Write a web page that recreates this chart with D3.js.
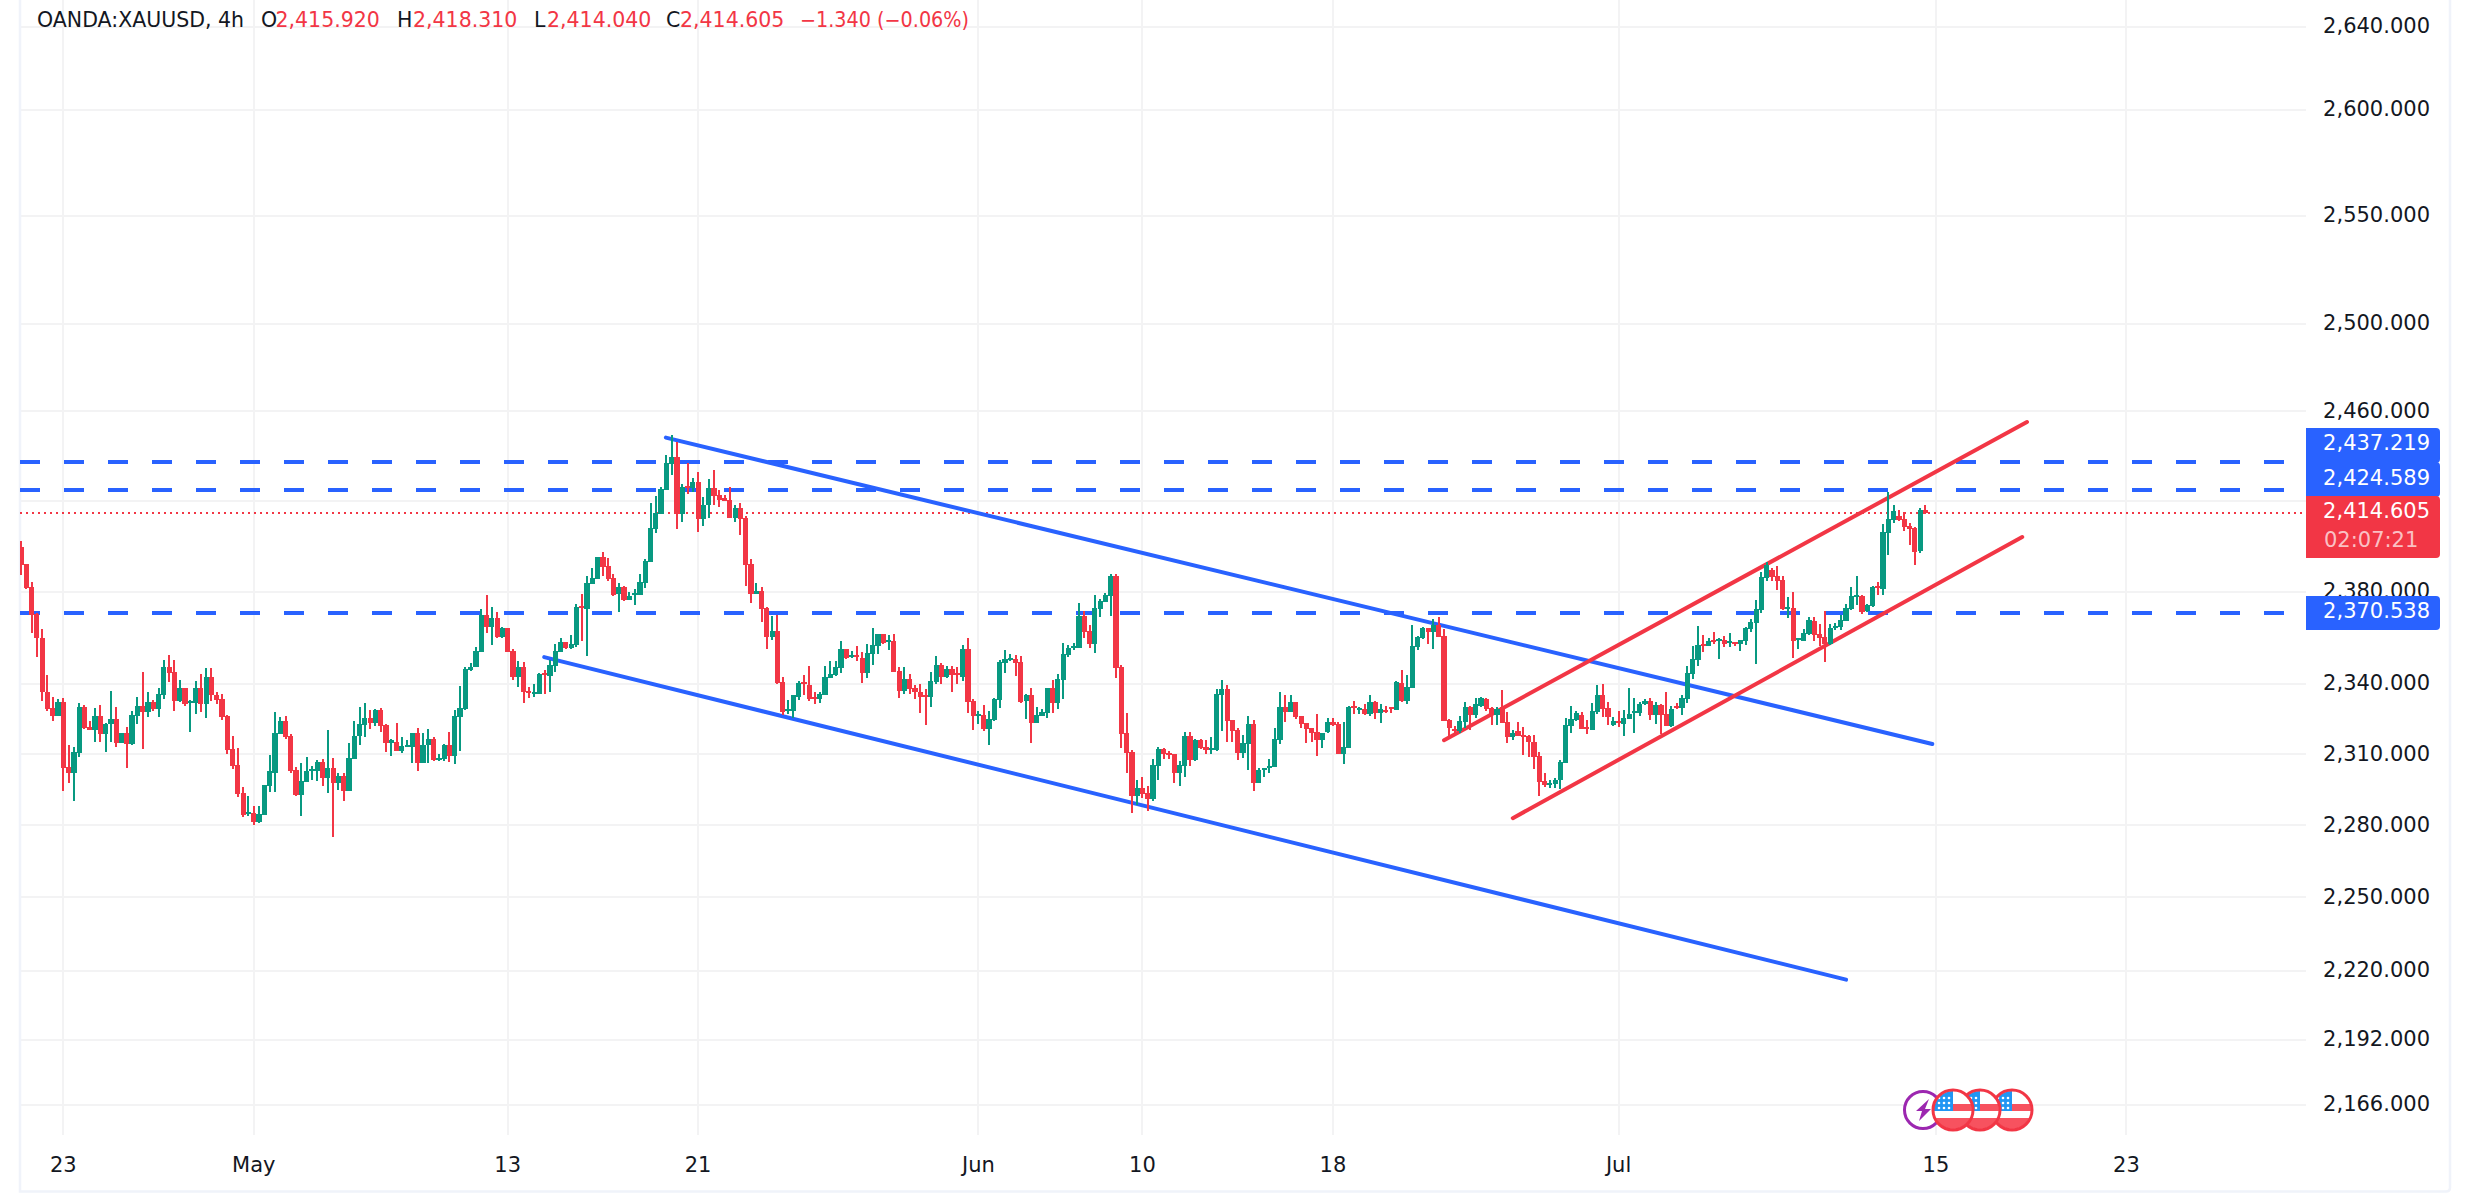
<!DOCTYPE html>
<html><head><meta charset="utf-8">
<script src="https://cdn.jsdelivr.net/npm/d3@7"></script>
<style>html,body{margin:0;padding:0;background:#fff;overflow:hidden}svg{display:block}text{font-family:"DejaVu Sans",sans-serif}</style>
</head><body><svg id="c" width="2470" height="1197"></svg>
<script>
// 4h XAUUSD candles
const highs=[
2402.2,2392.1,2384.3,2370.6,2363.8,2343.7,2334.5,2333.7,2334.1,2314,
2313.1,2331.9,2331,2324,2329.7,2331,2323.2,2337.1,2330.2,2318.8,
2321.4,2328.4,2334.5,2345,2336.3,2333.2,2338,2350.2,2352.4,2350.2,
2341.5,2338,2333.2,2341.1,2344.1,2346.7,2346.7,2336.3,2335.8,2326.7,
2317.5,2312.7,2296.1,2292.2,2288.3,2288.3,2297,2309.6,2328,2325.8,
2326.2,2318.4,2304.4,2306.2,2308.8,2304.8,2307.5,2307.9,2320.1,2308.3,
2302.2,2302.2,2314.9,2324,2330.2,2331.9,2328.9,2329.3,2329.7,2322.7,
2316.6,2323.2,2317.1,2316.2,2318.8,2321,2318.8,2320.6,2317.1,2310.1,
2314.4,2319.2,2328.9,2338.9,2347.2,2348.9,2355.9,2372.5,2378.6,2373.4,
2371.2,2364.6,2364.2,2355,2349.8,2349.4,2338.5,2339.8,2344.6,2345.9,
2350.2,2357.2,2359.8,2358.1,2361.2,2374.7,2379,2386.9,2390.4,2395.2,
2397.4,2394.8,2387.8,2383.9,2382.5,2379.9,2381.2,2387.8,2394.3,2418.8,
2422.3,2426.2,2440.2,2449.3,2446.3,2427.5,2436.7,2430.1,2432.7,2421.8,
2429.7,2433.6,2424.9,2422.7,2426.2,2418.3,2419.2,2413.1,2394.3,2383.9,
2382.1,2373.4,2369.4,2369.9,2342.8,2333.2,2335,2341.1,2343.7,2347.6,
2336.7,2336.7,2347.6,2349.8,2349.8,2358.5,2355,2354.2,2356.3,2353.7,
2357.2,2364.2,2361.6,2361.6,2361.2,2361.6,2347.2,2347.2,2344.1,2339.3,
2339.8,2337.6,2345,2352,2348.9,2347.6,2347.6,2347.2,2356.8,2359.8,
2333.7,2328.4,2331,2328.4,2334.1,2350.2,2354.6,2352.9,2352.4,2352,
2335.8,2338,2330.2,2329.3,2338,2341.5,2344.1,2357.7,2356.8,2357.7,
2375.1,2371.6,2365.5,2378.6,2376.9,2379.5,2387.8,2387.8,2348.1,2327.5,
2311.8,2299.2,2300.5,2296.5,2307.9,2313.1,2312.7,2311.4,2310.1,2307,
2319.2,2319.2,2316.6,2316.6,2316.2,2317.1,2337.6,2341.5,2339.3,2324.5,
2321,2318,2326.2,2324.5,2304,2304,2307.9,2321,2336.7,2335.4,
2335.4,2332.3,2326.2,2323.2,2321,2327.1,2318.8,2325.4,2325.4,2323.6,
2323.6,2330.6,2332.8,2330.2,2331.5,2335,2332.8,2331.5,2330.6,2330.2,
2341.1,2345.9,2343.7,2365.5,2360.7,2364.6,2364.2,2368.1,2369,2363.8,
2324.9,2321.9,2326.2,2332.3,2330.6,2334.1,2334.5,2334.1,2330.2,2330.2,
2337.2,2328,2320.1,2323.6,2321.4,2318,2318,2311,2302.2,2299.2,
2300.1,2307.5,2325.4,2330.6,2328.4,2328,2324.5,2331.9,2339.3,2339.8,
2332.3,2325.8,2328.4,2328.7,2338.4,2334.1,2332.3,2333.6,2334.1,2332.3,
2331.5,2336.7,2330.6,2331.9,2335,2347.6,2356.3,2365,2361.2,2359.8,
2362.5,2359.8,2360.7,2362,2358.1,2359,2364.6,2368.1,2376.4,2388.6,
2393,2390.4,2391.3,2386.9,2377.7,2379.9,2359.8,2363.8,2369,2369,
2365.9,2371.6,2365.9,2366.4,2369.9,2374.7,2382.1,2386.9,2378.6,2374.7,
2382.5,2384.3,2409.6,2424,2418.3,2416.1,2414.8,2410,2408.3,2416.6,
2418.31];
const lows=[
2387.1,2381.2,2361.9,2351.7,2332.8,2328.4,2324,2326.2,2294.4,2297.9,
2290,2308.8,2320.6,2320.1,2315.3,2315.3,2311,2315.3,2313.1,2314.9,
2304,2314,2322.7,2312.3,2325.8,2328.4,2325.8,2333.7,2340.6,2328.4,
2332.3,2330.6,2319.2,2327.1,2328,2325.4,2332.8,2331.5,2324.5,2310.1,
2303.5,2291.7,2283.5,2283.9,2280,2280.8,2284.3,2293.9,2293.9,2318.4,
2316.6,2302.2,2292.2,2283.9,2298.3,2299.2,2298.7,2296.5,2293.5,2275.2,
2294.8,2290.4,2294.4,2307.9,2314,2317.1,2320.6,2321.9,2319.3,2311,
2309.2,2311.4,2310.5,2313.1,2306.2,2302.7,2306.3,2306.3,2307,2307,
2307,2306.6,2305.7,2311.4,2328.9,2345.4,2347.2,2353.7,2362,2356.8,
2359.8,2359.8,2353.7,2341.5,2338.5,2331.9,2334.1,2334.5,2335.8,2335.8,
2336.3,2345,2353.7,2355,2355,2355.9,2358.5,2352,2383.4,2385.6,
2386.9,2384.7,2378.2,2371.2,2376,2376.4,2374.2,2378.6,2381.7,2393,
2405.7,2414,2424.9,2431.4,2407.4,2410.5,2423.1,2424,2406.1,2408.7,
2412.2,2417.9,2417,2420.1,2412.2,2410.5,2404.8,2382.5,2375.1,2379.1,
2366.8,2355,2359,2339.8,2326.7,2327.1,2325.4,2333.2,2335.4,2332.8,
2331.5,2331.9,2335,2342.4,2343.3,2344.6,2350.7,2351.1,2349.8,2340.2,
2342.4,2348.1,2352.9,2357.2,2354.6,2345,2334.1,2335.8,2335.8,2333.6,
2327.5,2322.3,2330.2,2339.8,2339.8,2342.4,2336.7,2339.8,2341.1,2327.5,
2320.1,2322.7,2319.7,2314,2324.1,2329.7,2344.6,2349.8,2343.3,2331.9,
2325,2314.9,2323.2,2326.2,2325.4,2327.5,2329.3,2333.7,2351.5,2354.6,
2355.5,2359.9,2355.5,2353.3,2369,2375.6,2369.4,2342.4,2312.7,2302.2,
2285.2,2288.7,2291.3,2286.1,2290.4,2299.2,2307.9,2307.9,2297.9,2296.5,
2300.5,2304.9,2307,2312.3,2310.1,2310.1,2311.4,2319.7,2315.3,2315.3,
2307.5,2308.3,2303.1,2294.4,2297.9,2300.5,2302.2,2304.4,2314.4,2323.6,
2328,2324.9,2321,2314.9,2315.3,2309.2,2312.7,2318.8,2321.9,2310.1,
2305.7,2312.7,2327.1,2327.1,2326.7,2326.2,2324.9,2323.2,2327.5,2327.5,
2328.9,2332.3,2331.5,2338,2354.6,2359.4,2357.2,2355,2360.3,2324,
2317.5,2318,2318.8,2321,2320.1,2325.4,2330.2,2328.4,2322.3,2322.3,
2323.2,2314.9,2316.2,2317.5,2309.7,2308.8,2303.5,2292.2,2296.1,2295.7,
2295.7,2295.2,2306.2,2318.8,2324.1,2320.6,2318.4,2320.1,2327.1,2325.8,
2322.3,2321.9,2321.4,2317.9,2324.9,2318.8,2326.2,2330.9,2324.5,2322.7,
2318.4,2321.9,2321.4,2329.3,2326.7,2331.9,2341.9,2347.6,2353.7,2356.3,
2357.2,2350.7,2355.9,2355.9,2356.3,2354.2,2356.8,2362.5,2348.5,2370.8,
2384.7,2384.7,2380.8,2372.1,2368.6,2351.1,2355,2358.5,2361.1,2358.5,
2356.3,2349.4,2356.8,2363.3,2363.3,2367.3,2372.1,2374.2,2370.3,2371.2,
2373.4,2378.6,2378.6,2396.1,2410,2410.9,2406.5,2400.4,2391.7,2397,
2414.04];
const opens=[
2399.7,2392.1,2382.1,2370,2359.8,2336.7,2329.7,2326.2,2332.3,2304.4,
2301.9,2310.5,2330.2,2321.4,2320.1,2326.2,2318.4,2322.7,2324.9,2314.9,
2318.8,2314.4,2326.2,2330.6,2328,2332.3,2329.3,2335.4,2347.2,2345,
2332.8,2338,2331.9,2331.9,2338,2331.5,2342.8,2335.4,2333.7,2326.2,
2312.3,2305.3,2293.5,2284.8,2285.2,2281.3,2284.3,2296.6,2302.2,2318.4,
2324,2317.5,2303.1,2292.6,2298.3,2302.7,2302.7,2306.6,2300,2304,
2297.9,2300.9,2294.4,2307.9,2317.5,2322.3,2325.4,2323.2,2328.9,2322.3,
2314.9,2315.3,2311.4,2313.1,2313.1,2318.8,2306.3,2314,2316.6,2307.5,
2307.9,2314,2309.2,2325.8,2329.3,2345.9,2347.2,2353.7,2369.9,2364.6,
2368.6,2360.3,2364.2,2354.2,2342.8,2347.2,2337.1,2335.8,2335.8,2344.6,
2343.3,2347.6,2353.7,2358.1,2355.5,2356.8,2373.8,2372.5,2383.4,2385.6,
2395.2,2391.3,2386,2379,2382.1,2376.4,2378.6,2378.6,2383.9,2393,
2407.4,2414,2424.9,2436.2,2439.3,2414,2426.6,2425.8,2428.4,2411.8,
2417.9,2425.8,2422.7,2421,2420.5,2412.2,2416.6,2412.2,2392.1,2379.1,
2380.4,2372.9,2360.3,2362.9,2340.6,2328.4,2328.4,2334.5,2340.6,2339.3,
2334.5,2333.7,2335.4,2342.4,2343.7,2346.7,2355,2351.5,2352.4,2351.1,
2344.6,2352.9,2356.3,2361.6,2358.1,2358.5,2345.4,2337.1,2342,2338,
2336.7,2335.4,2334.5,2340.6,2348.1,2342.8,2346.3,2344.6,2342.8,2355,
2332.8,2326.2,2326.7,2320.6,2324.5,2333.2,2348.9,2350.2,2350.7,2349.4,
2332.8,2335,2323.2,2326.2,2327.5,2338,2331.9,2341.5,2352.4,2355.5,
2355.5,2369.4,2362.9,2357.2,2372.5,2375.6,2378.2,2386.9,2347.2,2318.8,
2310.9,2292.2,2295.7,2293.5,2290.9,2304.9,2312.3,2310.5,2310.1,2302.2,
2304.9,2317.5,2307.5,2316.2,2313.1,2311.8,2311.8,2335.4,2337.6,2324.5,
2320.1,2310.5,2314.4,2322.7,2297.9,2303.1,2304,2304.4,2316.2,2330.2,
2328,2332.3,2326.2,2323.2,2321,2319.3,2315.8,2319.3,2323.6,2322.7,
2310.1,2312.7,2330.6,2328.8,2329.3,2327.1,2332.3,2327.5,2328.9,2330.2,
2328.9,2340.2,2332.8,2338,2355.9,2359.8,2364.2,2362.5,2365.5,2360.7,
2324.5,2320.6,2319.7,2323.6,2330.2,2326.7,2330.6,2333.7,2329.7,2326.7,
2330.2,2323.6,2317.1,2319.7,2318,2317.5,2315.3,2309.2,2298.7,2297.4,
2297.4,2299.2,2306.2,2321.9,2324.5,2326.7,2321.4,2320.1,2328,2335.4,
2329.7,2322.3,2324.3,2322.6,2324.9,2327.7,2327.5,2331.3,2332.8,2326.7,
2331,2327.1,2321.9,2330.6,2329.7,2333.7,2344.1,2350.2,2357.2,2356.3,
2359,2358.5,2359,2357.7,2358.1,2357.2,2358.5,2363.8,2366.4,2372.1,
2386,2389.5,2386.9,2385.2,2372.5,2372.9,2358.9,2358.5,2361.6,2367.3,
2361.6,2360.3,2357.2,2364.2,2364.6,2367.3,2372.5,2378,2378.2,2371.6,
2373.8,2382.5,2381.2,2405.7,2411.4,2413.1,2411.8,2408.7,2407.9,2397.8,
2415.92];
const closes=[
2391.7,2381.7,2369.6,2359.6,2336.4,2329.3,2326.2,2332.3,2304.1,2301.9,
2311,2330.2,2321,2320.1,2326.2,2318.4,2322.7,2324.9,2314.9,2318.8,
2314.4,2326.7,2330.6,2328,2332.3,2329.1,2335.8,2347.2,2344.6,2332.8,
2338,2331.5,2332.8,2338,2331.5,2342.8,2335,2333.2,2325.8,2311.8,
2304.8,2293.1,2284.3,2285.6,2281.3,2284.8,2297,2302.7,2318.8,2324,
2317.1,2302.7,2292.6,2298.7,2302.7,2303.5,2306.6,2300,2304,2297.9,
2300.9,2294.4,2308.3,2317.9,2322.7,2325.4,2323.2,2328.9,2321.9,2314.9,
2315.8,2311.4,2313.6,2314,2318.8,2306.2,2314,2316.6,2307.5,2308.3,
2314,2309.2,2326.2,2329.7,2346.3,2347.2,2354.2,2369.9,2364.6,2368.6,
2360.3,2364.2,2353.7,2342.8,2347.2,2336.3,2336.3,2336.7,2344.1,2343.7,
2348.1,2354.2,2358.1,2355.5,2357.2,2373.4,2372.9,2383.9,2386,2395.2,
2390.8,2385.6,2378.6,2382.1,2376.4,2378.2,2379.5,2384.3,2393.5,2407.9,
2414.4,2425.3,2436.7,2439.3,2414,2426.2,2425.9,2428.4,2411.8,2418.3,
2425.8,2422.3,2420.5,2420.1,2412.2,2416.6,2411.8,2391.7,2379.1,2380.4,
2372.5,2360.3,2362.9,2340.2,2328,2329.3,2335,2340.2,2339.8,2333.7,
2333.7,2335.8,2342.8,2344.1,2347.2,2355,2351.1,2352.4,2351.7,2344.6,
2353.3,2356.8,2361.6,2357.7,2359,2345,2337.1,2342,2337.6,2336.3,
2334.5,2334.7,2341.1,2348.1,2342.8,2346.3,2343.7,2343.7,2355,2332.3,
2326.2,2327.1,2320.6,2324.9,2333.7,2349.4,2350.7,2351.1,2348.9,2332.3,
2335,2323.2,2326.7,2328,2338,2331.9,2342,2352.9,2355.5,2356.3,
2369.4,2362.5,2357.2,2372.9,2376,2378.6,2386.9,2346.7,2318.4,2310.5,
2292.2,2295.7,2293.1,2290.9,2305.3,2312.3,2310.1,2309.6,2302.2,2305.3,
2317.5,2307.5,2316.2,2312.7,2311.8,2312.7,2335.8,2337.6,2324,2319.7,
2310.5,2314.9,2322.7,2297.9,2303.1,2304,2304.8,2316.6,2330.2,2328.1,
2332.3,2325.8,2322.7,2320.6,2318.8,2315.8,2318.8,2323.6,2322.3,2310.1,
2313.1,2330.2,2329.7,2329.7,2327.1,2332.3,2327.5,2329.3,2328,2329.3,
2340.6,2332.8,2338.5,2356.4,2360.3,2364.2,2362.5,2365.5,2360.3,2324,
2321,2319.7,2324,2330.2,2326.7,2331.5,2334.1,2329.3,2326.7,2329.3,
2323.2,2317.1,2318.8,2317.5,2317.1,2315.3,2308.8,2298.3,2297,2297.9,
2299.2,2306.6,2322.3,2324.9,2327.5,2320.6,2320.6,2328.4,2335.4,2329.3,
2325.8,2324.1,2323.6,2325.2,2326.9,2328.3,2331.5,2332.8,2326.7,2331,
2326.7,2321.9,2329.3,2329.7,2334.1,2344.6,2350.7,2356.8,2356.3,2358.5,
2358.1,2359.4,2357.2,2358.5,2357.4,2359,2364.2,2366.8,2372.5,2386.5,
2391.7,2386.5,2384.7,2372.5,2373.4,2358.5,2359.8,2362,2367.7,2361.1,
2359.8,2357.2,2364.2,2365.1,2367.7,2373,2378.2,2378.6,2371.2,2374.2,
2382.1,2382.1,2406.1,2411.8,2415.3,2411.4,2408.3,2407.4,2397.4,2415.7,
2414.605];

const barIndexTicks=[8,44,92,128,181,212,248,302,362,398];
const barTickLabels=['23','May','13','21','Jun','10','18','Jul','15','23'];
const priceTicks=[2640,2600,2550,2500,2460,2420,2380,2340,2310,2280,2250,2220,2192,2166];
const hiddenPriceLabels=[2420];
const levelPrices=[2437.219,2424.589,2370.538];
const lastPrice=2414.605;
const countdown='02:07:21';
const legendSymbol='OANDA:XAUUSD, 4h';
const legendFields=['O','H','L','C'];
const legendValues=['2,415.920','2,418.310','2,414.040','2,414.605'];
const legendChange='\u22121.340 (\u22120.06%)';
// drawn trend lines: [bar index, price] ends
const blueLines=[[[121.9,2448.2],[361.3,2314.3]],[[98.9,2351.5],[345,2216.3]]];
const redLines=[[[269,2315.9],[379.2,2455.2]],[[282,2283],[378.3,2403.9]]];

const RED='#f23645',GREEN='#089981',BLUE='#2962ff',INK='#131722',GRID='#f3f3f4',EDGE='#f0f3fa';
const plot={l:20,r:2306,b:1135};
const svg=d3.select('#c');
const x=d3.scaleLinear().domain([0,360]).range([21,1925.4]);
const y=d3.scaleLog().domain([2640,2166]).range([26.8,1104.7]);
const fmt=d3.format(',.3f');

// grid
svg.append('g').selectAll('line').data(barIndexTicks).join('line')
 .attr('x1',d=>Math.round(x(d))).attr('x2',d=>Math.round(x(d))).attr('y1',0).attr('y2',plot.b)
 .attr('stroke',GRID).attr('stroke-width',2).attr('shape-rendering','crispEdges');
svg.append('g').selectAll('line').data(priceTicks).join('line')
 .attr('x1',plot.l).attr('x2',plot.r).attr('y1',d=>Math.round(y(d))).attr('y2',d=>Math.round(y(d)))
 .attr('stroke',GRID).attr('stroke-width',2).attr('shape-rendering','crispEdges');

// frame
svg.append('path').attr('fill','none').attr('stroke',EDGE).attr('stroke-width',2.5)
 .attr('d','M20 0V1191.5H2446Q2450 1191.5 2450 1187.5V0');

const defs=svg.append('defs');
defs.append('clipPath').attr('id','plotClip').append('rect').attr('x',plot.l).attr('y',0).attr('width',plot.r-plot.l).attr('height',plot.b);

const drawings=svg.append('g').attr('clip-path','url(#plotClip)');
// level lines
drawings.append('g').selectAll('line').data(levelPrices).join('line')
 .attr('x1',plot.l).attr('x2',plot.r).attr('y1',d=>Math.round(y(d))).attr('y2',d=>Math.round(y(d)))
 .attr('stroke',BLUE).attr('stroke-width',4).attr('stroke-dasharray','20 24').attr('shape-rendering','crispEdges');
drawings.append('line').attr('x1',plot.l).attr('x2',plot.r).attr('y1',Math.round(y(lastPrice))).attr('y2',Math.round(y(lastPrice)))
 .attr('stroke',RED).attr('stroke-width',2).attr('stroke-dasharray','2 4').attr('shape-rendering','crispEdges');
// trend lines
const trend=(data,col)=>drawings.append('g').selectAll('line').data(data).join('line')
 .attr('x1',d=>x(d[0][0])).attr('y1',d=>y(d[0][1])).attr('x2',d=>x(d[1][0])).attr('y2',d=>y(d[1][1]))
 .attr('stroke',col).attr('stroke-width',4).attr('stroke-linecap','round');
trend(blueLines,BLUE);trend(redLines,RED);

// candles
const idx=d3.range(highs.length);
const col=i=>closes[i]>=opens[i]?GREEN:RED;
const cg=svg.append('g').attr('clip-path','url(#plotClip)').attr('shape-rendering','crispEdges');
cg.selectAll('.w').data(idx).join('rect').attr('class','w')
 .attr('x',i=>Math.round(x(i))-1).attr('width',2)
 .attr('y',i=>y(highs[i])).attr('height',i=>Math.max(1,y(lows[i])-y(highs[i]))).attr('fill',col);
cg.selectAll('.b').data(idx).join('rect').attr('class','b')
 .attr('x',i=>Math.round(x(i)-2.6)).attr('width',i=>Math.round(x(i)+2.6)-Math.round(x(i)-2.6))
 .attr('y',i=>y(Math.max(opens[i],closes[i])))
 .attr('height',i=>Math.max(2,Math.abs(y(opens[i])-y(closes[i])))).attr('fill',col);

// price axis labels
svg.append('g').selectAll('text').data(priceTicks.filter(d=>!hiddenPriceLabels.includes(d))).join('text')
 .attr('x',2430).attr('y',d=>y(d)-.5).attr('text-anchor','end').attr('dominant-baseline','central')
 .attr('font-size',21).attr('fill',INK).text(d=>fmt(d));
// time axis labels
svg.append('g').selectAll('text').data(barIndexTicks).join('text')
 .attr('x',d=>x(d)).attr('y',1165).attr('text-anchor','middle').attr('dominant-baseline','central')
 .attr('font-size',21).attr('fill',INK).text((d,i)=>barTickLabels[i]);

// price tags
const tag=(y0,y1,fill)=>svg.append('path').attr('fill',fill)
 .attr('d',`M2306 ${y0}H2436Q2440 ${y0} 2440 ${y0+4}V${y1-4}Q2440 ${y1} 2436 ${y1}H2306Z`);
tag(428,463,BLUE);tag(462,497,BLUE);tag(596,630,BLUE);tag(496,558,RED);
const tagText=(t,yy)=>svg.append('text').attr('x',2430).attr('y',yy).attr('text-anchor','end')
 .attr('dominant-baseline','central').attr('font-size',21).attr('fill','#fff').text(t);
tagText(fmt(levelPrices[0]),443);tagText(fmt(levelPrices[1]),478);tagText(fmt(levelPrices[2]),611);
tagText(fmt(lastPrice),511);
svg.append('text').attr('x',2324).attr('y',540).attr('dominant-baseline','central').attr('font-size',21)
 .attr('fill','#fff').attr('fill-opacity',.7).text(countdown);

// legend
const lg=svg.append('g').attr('font-size',20.5);
const legendText=(t,xx,c)=>lg.append('text').attr('x',xx).attr('y',20).attr('dominant-baseline','central').attr('fill',c).text(t);
legendText(legendSymbol,37,INK);
[261,397,534,666].forEach((xx,i)=>legendText(legendFields[i],xx,INK));
[275.5,413,547,680].forEach((xx,i)=>legendText(legendValues[i],xx,RED));
legendText(legendChange,800,RED).attr('textLength',169).attr('lengthAdjust','spacingAndGlyphs');

// economic event markers
const ev=svg.append('g');
defs.append('clipPath').attr('id','flagClip').append('circle').attr('r',19);
const flag=(cx)=>{
 const g=ev.append('g').attr('transform',`translate(${cx},1110)`);
 g.append('circle').attr('r',20.5).attr('fill','#fff');
 const f=g.append('g').attr('clip-path','url(#flagClip)');
 f.append('rect').attr('x',-19).attr('y',-19).attr('width',38).attr('height',38).attr('fill','#fff');
 f.append('rect').attr('x',-19).attr('y',-6).attr('width',38).attr('height',7).attr('fill','#f7525f');
 f.append('rect').attr('x',-19).attr('y',8).attr('width',38).attr('height',11).attr('fill','#f7525f');
 f.append('rect').attr('x',-19).attr('y',-19).attr('width',19).attr('height',20).attr('fill','#2196f3');
 [-14,-9,-4].forEach(px=>[-12,-7,-2].forEach(py=>f.append('circle').attr('cx',px).attr('cy',py).attr('r',1.3).attr('fill','#fff')));
 g.append('circle').attr('r',20).attr('fill','none').attr('stroke',RED).attr('stroke-width',3);
};
const bolt=ev.append('g').attr('transform','translate(1923,1110)');
bolt.append('circle').attr('r',18.5).attr('fill','#fff').attr('stroke','#9c27b0').attr('stroke-width',3);
bolt.append('path').attr('fill','#9c27b0').attr('d','M6 -11L-7 1L-1 1L-4 11L8 -1L2 -1Z');
[2012,1980,1953].forEach(flag);
</script>
</body></html>
